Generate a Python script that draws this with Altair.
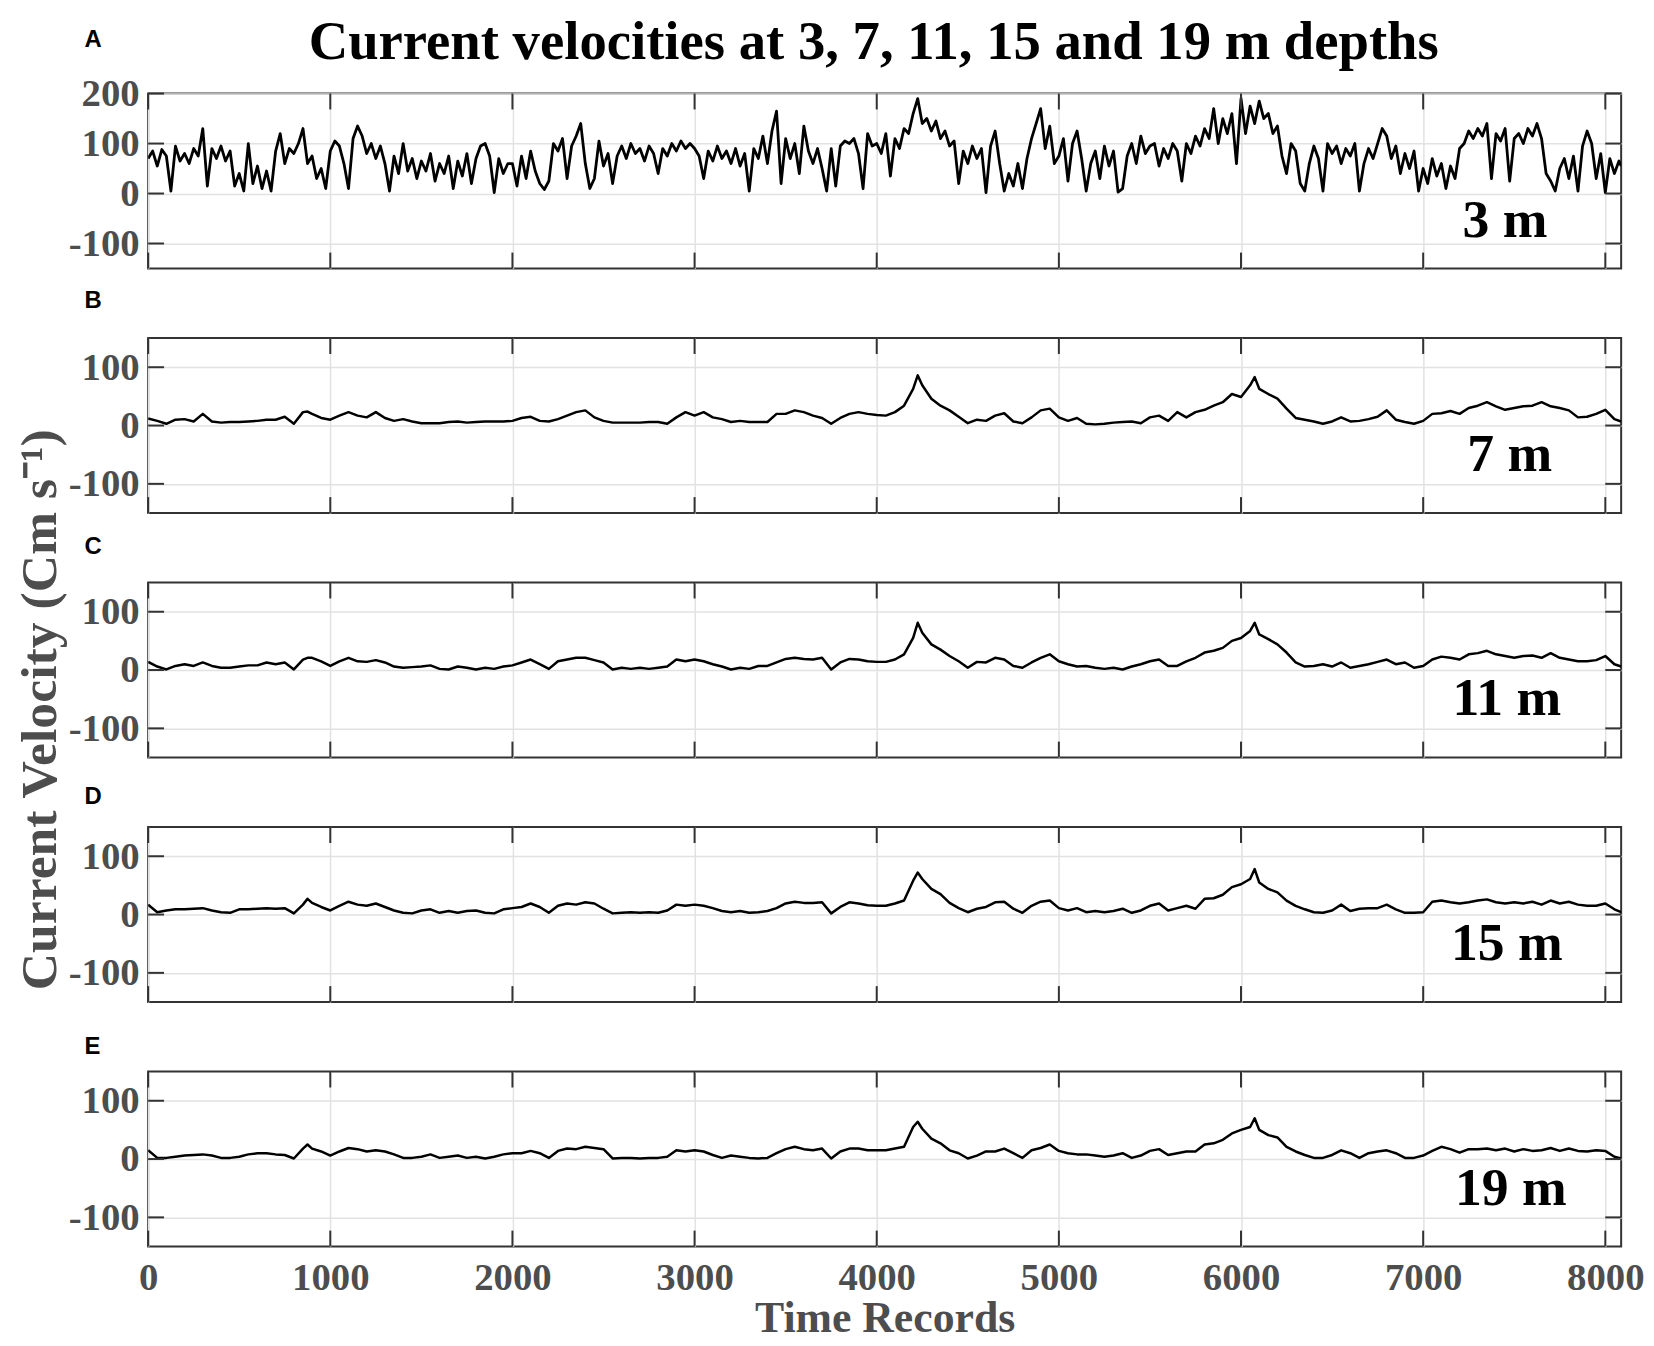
import altair as alt
import pandas as pd

# ---------------- data ----------------
rec_3m = list(range(0, 8076, 25)) + [8087]
v_3m = (
    [70, 85, 55, 88, 75, 5, 95, 65, 80, 60, 90, 75, 130, 15, 90, 70, 95, 65, 85, 15,
     40, 5, 100, 20, 55, 10, 45, 5, 85, 120, 60, 90, 80, 100, 130, 60, 75, 30, 50, 10]
    + [85, 105, 95, 60, 10, 110, 135, 115, 80, 100, 70, 95, 60, 5, 75, 40, 100, 45, 70, 30,
       65, 45, 80, 25, 60, 40, 75, 10, 65, 35, 80, 20, 70, 95, 100, 75, 2, 70, 40, 60]
    + [60, 15, 75, 30, 85, 45, 20, 8, 25, 100, 85, 110, 30, 95, 115, 140, 60, 10, 30, 105,
       55, 80, 20, 75, 95, 70, 100, 80, 90, 65, 95, 80, 40, 90, 75, 100, 85, 105, 90, 100]
    + [90, 75, 30, 85, 65, 95, 70, 85, 60, 90, 55, 80, 5, 90, 70, 115, 60, 125, 165, 20,
       110, 70, 100, 40, 135, 85, 60, 90, 50, 5, 90, 15, 95, 105, 100, 110, 80, 10, 120, 95]
    + [100, 80, 120, 35, 110, 90, 130, 120, 160, 190, 140, 150, 125, 145, 110, 125, 95, 105, 20, 85,
       60, 95, 70, 90, 2, 95, 125, 60, 5, 40, 15, 60, 10, 70, 110, 140, 170, 90, 135, 60]
    + [75, 110, 25, 100, 125, 70, 5, 60, 85, 30, 95, 55, 85, 3, 10, 75, 100, 60, 115, 80,
       95, 100, 55, 90, 70, 100, 85, 25, 100, 80, 115, 95, 130, 110, 170, 100, 150, 120, 160, 60]
    + [190, 120, 175, 140, 185, 150, 160, 120, 135, 75, 40, 100, 85, 20, 5, 60, 95, 70, 5, 100,
       80, 95, 60, 90, 75, 100, 5, 60, 90, 70, 100, 130, 115, 70, 95, 40, 80, 50, 85, 5]
    + [50, 20, 70, 35, 60, 10, 55, 30, 90, 100, 125, 110, 130, 115, 140, 30, 120, 105, 130, 25,
       110, 120, 100, 130, 115, 140, 110, 40, 25, 5, 50, 70, 30, 75, 5, 95, 125, 100, 30, 80,
       2, 70, 40, 65]
    + [55]
)

rec_deep = (list(range(0, 851, 50)) + [875] + list(range(900, 4201, 50)) + [4225]
            + list(range(4250, 6051, 50)) + [6075] + list(range(6100, 8051, 50)) + [8087])

v_7m = ([12, 8, 3, 10, 11, 7, 20, 7, 5, 6, 6, 7, 8, 10, 10, 15, 3, 23] + [24] + [20, 13]
        + [10, 17, 23, 17, 14, 23, 13, 8, 11, 7, 4, 4, 4, 6, 7, 5, 6, 7, 7, 7]
        + [8, 13, 15, 8, 7, 11, 17, 23, 26, 14, 8, 5, 5, 5, 5, 6, 6, 3, 14, 23]
        + [17, 23, 14, 11, 6, 8, 6, 6, 6, 20, 20, 26, 23, 17, 13, 3, 13, 20, 23, 20]
        + [18, 17, 23, 34, 63] + [86]
        + [69, 46, 34, 26, 15, 4, 10, 8, 17, 21, 7, 4, 14, 26, 29]
        + [14, 8, 13, 3, 2, 3, 5, 6, 7, 4, 14, 17, 8, 23, 14, 23, 27, 34, 40, 54]
        + [49, 69] + [83]
        + [63, 54, 46, 29, 13, 10, 7, 3, 7, 14, 7, 8, 11, 15, 26, 10, 6, 3]
        + [8, 20, 21, 25, 20, 30, 34, 40, 33, 27, 30, 33, 34, 40, 33, 30, 26, 14, 15, 20]
        + [27, 11] + [7])

v_11m = ([14, 6, 1, 7, 10, 7, 13, 7, 4, 4, 6, 8, 8, 13, 10, 13, 1, 18] + [21] + [21, 15]
         + [7, 15, 21, 15, 14, 17, 13, 6, 4, 5, 6, 8, 2, 1, 6, 4, 1, 4, 2, 6]
         + [8, 13, 18, 10, 2, 15, 18, 21, 21, 17, 13, 1, 4, 2, 4, 2, 4, 6, 18, 15]
         + [18, 15, 10, 6, 1, 4, 2, 7, 7, 13, 19, 21, 19, 18, 21, 1, 13, 19, 18, 15]
         + [14, 14, 18, 27, 55] + [81]
         + [64, 44, 35, 24, 15, 4, 14, 13, 21, 18, 7, 4, 13, 21, 27]
         + [15, 10, 6, 7, 4, 2, 4, 1, 6, 10, 15, 18, 7, 7, 15, 21, 30, 33, 38, 50]
         + [55, 67] + [81]
         + [61, 53, 44, 30, 13, 6, 7, 10, 6, 13, 4, 7, 10, 14, 18, 10, 13, 4]
         + [7, 18, 23, 21, 18, 27, 29, 33, 27, 24, 21, 24, 25, 21, 29, 21, 18, 15, 15, 17]
         + [24, 10] + [6])

v_15m = ([17, 4, 7, 9, 9, 10, 11, 7, 4, 3, 9, 9, 10, 11, 10, 11, 2, 17] + [27] + [20, 13]
         + [7, 15, 22, 17, 15, 19, 13, 7, 3, 2, 7, 9, 3, 6, 3, 6, 7, 3, 2, 9]
         + [11, 13, 19, 13, 3, 15, 19, 17, 21, 19, 10, 2, 3, 4, 3, 4, 3, 7, 17, 15]
         + [17, 15, 11, 6, 4, 6, 3, 4, 6, 11, 19, 22, 20, 20, 21, 2, 13, 21, 19, 16]
         + [15, 15, 19, 24, 58] + [72]
         + [61, 44, 35, 20, 11, 4, 10, 13, 21, 22, 10, 3, 15, 22, 24]
         + [11, 7, 11, 4, 6, 4, 6, 10, 3, 7, 15, 19, 7, 11, 15, 10, 27, 28, 34, 47]
         + [52, 61] + [78]
         + [55, 44, 38, 24, 15, 9, 4, 3, 7, 17, 6, 10, 11, 11, 17, 9, 3, 3]
         + [4, 22, 24, 21, 19, 21, 24, 26, 21, 19, 21, 19, 22, 17, 24, 19, 22, 17, 15, 15]
         + [19, 9] + [4])

v_19m = ([15, 2, 2, 4, 6, 7, 8, 6, 2, 2, 4, 8, 10, 10, 8, 7, 1, 18] + [25] + [18, 13]
         + [6, 13, 19, 17, 13, 15, 13, 8, 2, 2, 4, 8, 2, 4, 6, 2, 4, 1, 4, 8]
         + [10, 10, 14, 10, 2, 14, 18, 17, 21, 19, 17, 1, 2, 2, 1, 2, 2, 4, 15, 13]
         + [15, 13, 7, 2, 6, 4, 2, 1, 2, 10, 17, 21, 17, 15, 18, 1, 13, 18, 18, 15]
         + [15, 15, 18, 21, 55] + [64]
         + [52, 35, 27, 15, 10, 1, 6, 13, 13, 18, 10, 2, 15, 19, 25]
         + [14, 10, 8, 8, 6, 4, 6, 10, 2, 6, 14, 17, 7, 10, 13, 13, 25, 27, 33, 44]
         + [50, 55] + [70]
         + [50, 41, 37, 21, 13, 7, 2, 2, 7, 15, 10, 2, 10, 13, 15, 10, 2, 2]
         + [6, 14, 21, 17, 11, 17, 17, 18, 15, 18, 13, 17, 14, 15, 19, 14, 18, 14, 13, 15]
         + [14, 4] + [1])

depth_labels = ["3 m", "7 m", "11 m", "15 m", "19 m"]
panel_letters = ["A", "B", "C", "D", "E"]
x_ticks = [0, 1000, 2000, 3000, 4000, 5000, 6000, 7000, 8000]
y_ticks_top = [-100, 0, 100, 200]
y_ticks = [-100, 0, 100]
title_text = "Current velocities at 3, 7, 11, 15 and 19 m depths"
y_title_text = "Current Velocity (Cm s\u207b\u00b9)"
x_title_text = "Time Records"

assert len(v_3m) == len(rec_3m), (len(v_3m), len(rec_3m))
for s in (v_7m, v_11m, v_15m, v_19m):
    assert len(s) == len(rec_deep), (len(s), len(rec_deep))

# ---------------- styling / layout ----------------
W, H = 1482, 176
SERIF = "Liberation Serif"
SANS = "Liberation Sans"
GRAY = "#4d4d4d"
FRAME = "#333333"
GRID = "#e2e2e2"
TICK = 16
X_DOMAIN = [0, 8087]
LABEL_EXPR = "'' + datum.value"

layout = [
    dict(ydom=[-150, 200], yt=y_ticks_top, letter_y=-54, depth_x=1365, depth_y=144, sw=2.8),
    dict(ydom=[-150, 150], yt=y_ticks, letter_y=-37, depth_x=1370, depth_y=134, sw=2.5),
    dict(ydom=[-150, 150], yt=y_ticks, letter_y=-36, depth_x=1367, depth_y=133, sw=2.5),
    dict(ydom=[-150, 150], yt=y_ticks, letter_y=-30, depth_x=1367, depth_y=134, sw=2.5),
    dict(ydom=[-150, 150], yt=y_ticks, letter_y=-25, depth_x=1371, depth_y=134, sw=2.5),
]


def panel(i, rec, vals, bottom=False):
    cfg = layout[i]
    xs = alt.Scale(domain=X_DOMAIN, nice=False, zero=False)
    ys = alt.Scale(domain=cfg["ydom"], nice=False, zero=False)
    x_axis = alt.Axis(values=x_ticks, grid=True, gridColor=GRID, gridWidth=1.5,
                      ticks=False, tickSize=0, domain=False, labels=bottom,
                      labelFlush=False,
                      labelFont=SERIF, labelFontSize=39, labelFontWeight="bold",
                      labelColor=GRAY, labelPadding=12, labelExpr=LABEL_EXPR,
                      title=x_title_text if bottom else "",
                      titleFont=SERIF, titleFontSize=44, titleFontWeight="bold",
                      titleColor=GRAY, titlePadding=0)
    y_axis = alt.Axis(values=cfg["yt"], grid=True, gridColor=GRID, gridWidth=1.5,
                      ticks=False, tickSize=0, domain=False,
                      labelFont=SERIF, labelFontSize=39, labelFontWeight="bold",
                      labelColor=GRAY, labelPadding=9, labelExpr=LABEL_EXPR, title="")
    df = pd.DataFrame({"rec": rec, "v": vals})
    line = alt.Chart(df).mark_line(color="black", strokeWidth=cfg["sw"],
                                   strokeJoin="round", clip=True).encode(
        x=alt.X("rec:Q", scale=xs, axis=x_axis),
        y=alt.Y("v:Q", scale=ys, axis=y_axis),
    )
    xt = pd.DataFrame({"rec": x_ticks})
    yt = pd.DataFrame({"v": cfg["yt"]})
    tick_bottom = alt.Chart(xt).mark_rule(color=FRAME, strokeWidth=2).encode(
        x=alt.X("rec:Q", scale=xs), y=alt.value(H), y2=alt.value(H - TICK))
    tick_top = alt.Chart(xt).mark_rule(color=FRAME, strokeWidth=2).encode(
        x=alt.X("rec:Q", scale=xs), y=alt.value(0), y2=alt.value(TICK))
    tick_left = alt.Chart(yt).mark_rule(color=FRAME, strokeWidth=2).encode(
        y=alt.Y("v:Q", scale=ys), x=alt.value(0), x2=alt.value(TICK))
    tick_right = alt.Chart(yt).mark_rule(color=FRAME, strokeWidth=2).encode(
        y=alt.Y("v:Q", scale=ys), x=alt.value(W - TICK), x2=alt.value(W))
    depth = alt.Chart(pd.DataFrame({"t": [depth_labels[i]]})).mark_text(
        font=SERIF, fontSize=54, fontWeight="bold", color="black",
        align="center", baseline="alphabetic").encode(
        x=alt.value(cfg["depth_x"]), y=alt.value(cfg["depth_y"]), text="t:N")
    letter = alt.Chart(pd.DataFrame({"t": [panel_letters[i]]})).mark_text(
        font=SANS, fontSize=24, fontWeight="bold", color="black",
        align="left", baseline="middle").encode(
        x=alt.value(-64), y=alt.value(cfg["letter_y"]), text="t:N")
    layers = [line, tick_bottom, tick_top, tick_left, tick_right, depth, letter]
    if i == 0:
        layers.append(alt.Chart(pd.DataFrame({"t": [title_text]})).mark_text(
            font=SERIF, fontSize=55, fontWeight="bold", color="black",
            align="center", baseline="alphabetic").encode(
            x=alt.value(730), y=alt.value(-35), text="t:N"))
    if i == 2:
        layers.append(alt.Chart(pd.DataFrame({"t": [y_title_text]})).mark_text(
            font=SERIF, fontSize=52, fontWeight="bold", color=GRAY, angle=270,
            align="center", baseline="middle").encode(
            x=alt.value(-109), y=alt.value(128), text="t:N"))
    return alt.layer(*layers).properties(width=W, height=H)


panels = [
    panel(0, rec_3m, v_3m),
    panel(1, rec_deep, v_7m),
    panel(2, rec_deep, v_11m),
    panel(3, rec_deep, v_15m),
    panel(4, rec_deep, v_19m, bottom=True),
]

chart = alt.vconcat(*panels, spacing=70, bounds="flush").properties(
    padding={"left": 4, "top": 2, "right": 0, "bottom": 0},
    background="white",
).configure_view(stroke=FRAME, strokeWidth=2)

chart.save("out.html", embed_options={"renderer": "svg", "actions": False})
